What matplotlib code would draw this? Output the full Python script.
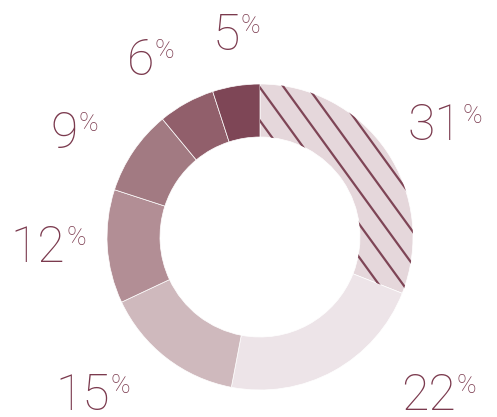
import numpy as np
import matplotlib
matplotlib.use("Agg")
import matplotlib.pyplot as plt
from matplotlib.font_manager import fontManager

shares = [31, 22, 15, 12, 9, 6, 5]
labels = [f"{v}" for v in shares]
colors = ["#E5D7DB", "#EDE4E8", "#CFB9BD", "#B28E95", "#A27A82", "#915F6B", "#7E4656"]
text_color = "#7B3A4E"
hatch_color = "#7E4556"

W, H = 497, 417
fig = plt.figure(figsize=(W / 100, H / 100), dpi=100)
ax = fig.add_axes([0, 0, 1, 1])

cx, cy = 260, 180
r_out, ring = 153, 53

wedges, _ = ax.pie(shares, colors=colors, startangle=90, counterclock=False,
                   radius=r_out, center=(cx, cy), frame=True,
                   wedgeprops=dict(width=ring, edgecolor="white", linewidth=0.5))
ax.set_xlim(0, W)
ax.set_ylim(0, H)
ax.set_aspect("equal")
ax.axis("off")

# diagonal hatching on the largest segment, clipped to its wedge
ang = np.deg2rad(54)
d = np.array([np.cos(ang), -np.sin(ang)])
nrm = np.array([np.sin(ang), np.cos(ang)])
step, phase = 19.5, 9.8
for k in range(-12, 13):
    off = phase + k * step
    base = np.array([cx, cy]) + nrm * off
    p0, p1 = base - d * 400, base + d * 400
    ln, = ax.plot([p0[0], p1[0]], [p0[1], p1[1]], color=hatch_color, lw=1.6,
                  solid_capstyle="butt")
    ln.set_clip_path(wedges[0])

names = {f.name for f in fontManager.ttflist}
family = "Roboto" if "Roboto" in names else "DejaVu Sans"

# label anchors: (x where number ends / % begins, baseline y), screen pixels
anchors = [(462, 140), (456, 410), (110, 410), (65, 262), (78, 148), (154, 75), (240, 50)]
digit_h = 36
for lab, (x, yb) in zip(labels, anchors):
    ax.text(x, H - yb, lab, ha="right", va="baseline", fontsize=36,
            family=family, weight="light", color=text_color)
    ax.text(x + 1, H - yb + digit_h, "%", ha="left", va="top", fontsize=19,
            family=family, weight="light", color=text_color)

fig.savefig("out.png", dpi=100, facecolor="white")
